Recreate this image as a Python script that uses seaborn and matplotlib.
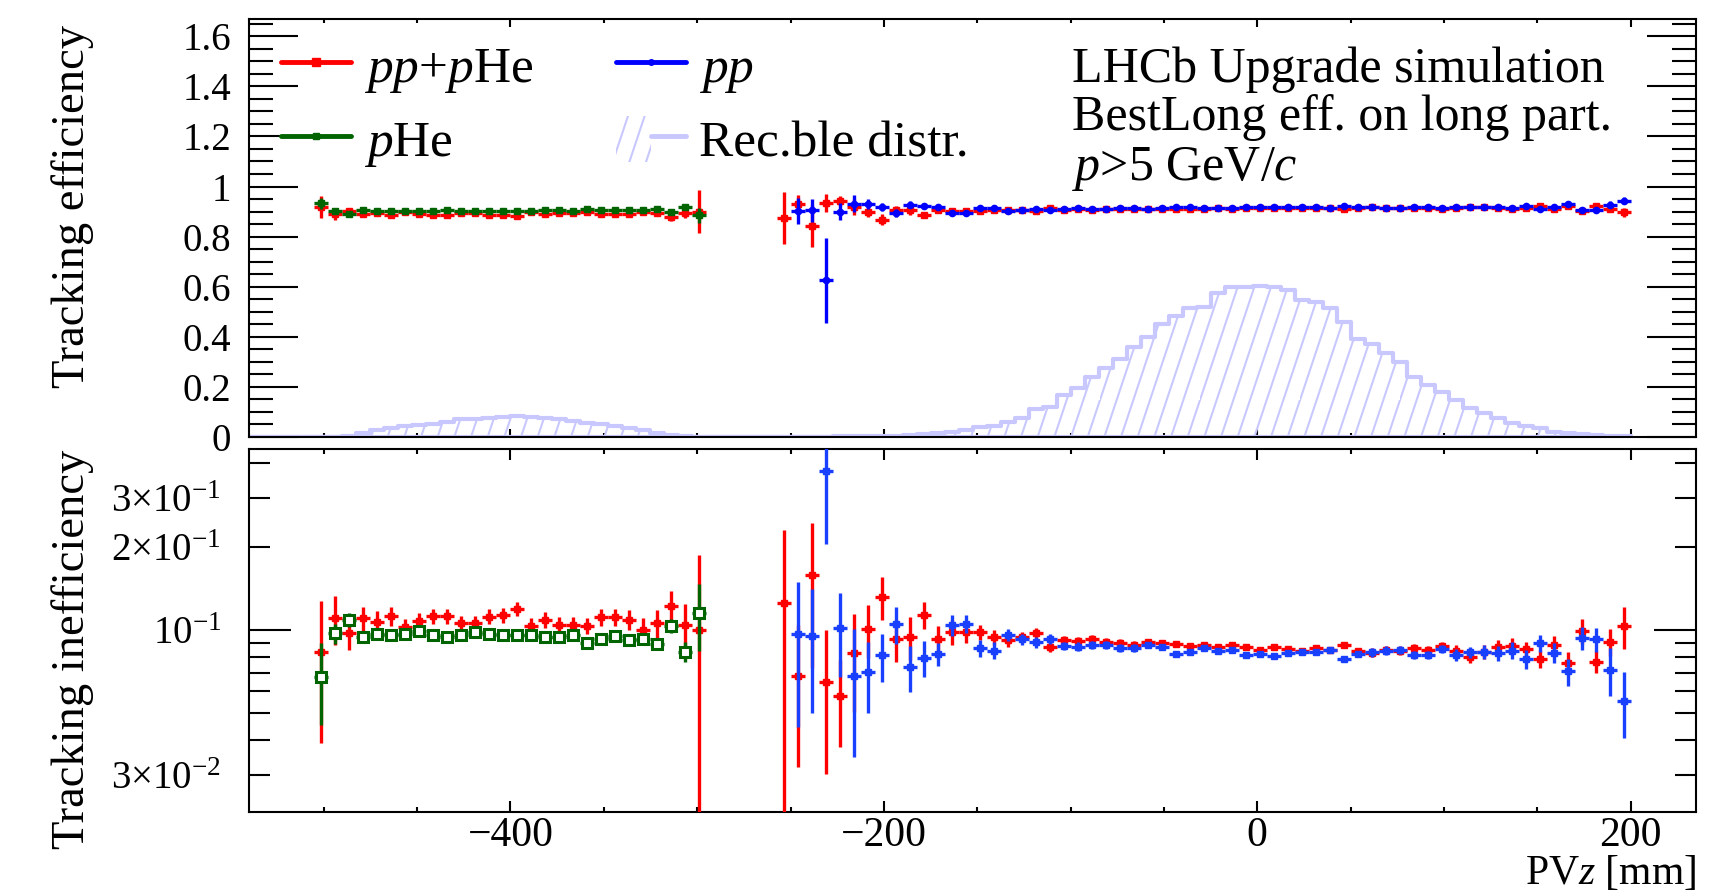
import numpy as np
import matplotlib
matplotlib.use("Agg")
import matplotlib.pyplot as plt
import matplotlib.hatch as mhatch
from matplotlib.path import Path
from matplotlib.lines import Line2D
from matplotlib.patches import Patch
from matplotlib.legend_handler import HandlerTuple
from matplotlib.ticker import FixedLocator, FuncFormatter, MultipleLocator
import seaborn as sns

# ---------------- data ----------------
pz_left = [-501.25, -493.75, -486.25, -478.75, -471.25, -463.75, -456.25, -448.75, -441.25, -433.75,
           -426.25, -418.75, -411.25, -403.75, -396.25, -388.75, -381.25, -373.75, -366.25, -358.75,
           -351.25, -343.75, -336.25, -328.75, -321.25, -313.75, -306.25, -298.75]

pz_right = [-253.75, -246.25, -238.75, -231.25, -223.75, -216.25, -208.75, -201.25, -193.75, -186.25,
            -178.75, -171.25, -163.75, -156.25, -148.75, -141.25, -133.75, -126.25, -118.75, -111.25,
            -103.75, -96.25, -88.75, -81.25, -73.75, -66.25, -58.75, -51.25, -43.75, -36.25,
            -28.75, -21.25, -13.75, -6.25, 1.25, 8.75, 16.25, 23.75, 31.25, 38.75,
            46.25, 53.75, 61.25, 68.75, 76.25, 83.75, 91.25, 98.75, 106.25, 113.75,
            121.25, 128.75, 136.25, 143.75, 151.25, 158.75, 166.25, 173.75, 181.25, 188.75, 196.25]

pz_blue = [-246.25, -238.75, -231.25, -223.75, -216.25, -208.75, -201.25, -193.75, -186.25,
           -178.75, -171.25, -163.75, -156.25, -148.75, -141.25, -133.75, -126.25, -118.75, -111.25,
           -103.75, -96.25, -88.75, -81.25, -73.75, -66.25, -58.75, -51.25, -43.75, -36.25,
           -28.75, -21.25, -13.75, -6.25, 1.25, 8.75, 16.25, 23.75, 31.25, 38.75,
           46.25, 53.75, 61.25, 68.75, 76.25, 83.75, 91.25, 98.75, 106.25, 113.75,
           121.25, 128.75, 136.25, 143.75, 151.25, 158.75, 166.25, 173.75, 181.25, 188.75, 196.25]

# pp+pHe (red) - fixed-target region
eff_red_left = [0.917, 0.890, 0.903, 0.890, 0.893, 0.888, 0.898, 0.892, 0.888, 0.888,
                0.894, 0.894, 0.888, 0.887, 0.881, 0.897, 0.891, 0.896, 0.896, 0.897,
                0.889, 0.889, 0.891, 0.900, 0.894, 0.878, 0.896, 0.900]
ineff_red_left = [0.0831, 0.1102, 0.0973, 0.1100, 0.1071, 0.1123, 0.1022, 0.1080, 0.1123, 0.1123,
                  0.1057, 0.1057, 0.1117, 0.1133, 0.1191, 0.1034, 0.1087, 0.1042, 0.1042, 0.1034,
                  0.1111, 0.1111, 0.1087, 0.1000, 0.1057, 0.1221, 0.1042, 0.1000]
err_red_left = [0.044, 0.022, 0.013, 0.011, 0.010, 0.009, 0.007, 0.007, 0.007, 0.007,
                0.007, 0.007, 0.007, 0.007, 0.007, 0.007, 0.007, 0.007, 0.007, 0.007,
                0.008, 0.008, 0.009, 0.010, 0.012, 0.016, 0.020, 0.087]

# pHe (green)
eff_green = [0.933, 0.903, 0.891, 0.905, 0.904, 0.904, 0.904, 0.901, 0.904, 0.905,
             0.904, 0.901, 0.904, 0.904, 0.904, 0.904, 0.905, 0.905, 0.904, 0.911,
             0.908, 0.905, 0.908, 0.908, 0.911, 0.897, 0.917, 0.885]
ineff_green = [0.0675, 0.0973, 0.1087, 0.0946, 0.0965, 0.0960, 0.0965, 0.0994, 0.0960, 0.0946,
               0.0960, 0.0986, 0.0965, 0.0960, 0.0960, 0.0960, 0.0946, 0.0946, 0.0960, 0.0895,
               0.0925, 0.0951, 0.0920, 0.0925, 0.0890, 0.1034, 0.0835, 0.1149]
err_green = [0.022, 0.008, 0.006, 0.004, 0.003, 0.003, 0.003, 0.003, 0.003, 0.003,
             0.003, 0.003, 0.003, 0.003, 0.003, 0.003, 0.003, 0.003, 0.003, 0.003,
             0.003, 0.003, 0.003, 0.003, 0.004, 0.006, 0.007, 0.031]

# pp+pHe (red) - collision region
eff_red_right = [0.875, 0.932, 0.842, 0.935, 0.942, 0.918, 0.899, 0.868, 0.908, 0.905,
                 0.886, 0.907, 0.902, 0.902, 0.902, 0.906, 0.908, 0.905, 0.903, 0.913,
                 0.908, 0.909, 0.907, 0.910, 0.911, 0.912, 0.910, 0.911, 0.911, 0.912,
                 0.912, 0.913, 0.912, 0.913, 0.916, 0.914, 0.915, 0.916, 0.914, 0.915,
                 0.912, 0.916, 0.917, 0.915, 0.916, 0.914, 0.915, 0.912, 0.916, 0.920,
                 0.917, 0.913, 0.912, 0.915, 0.921, 0.912, 0.924, 0.901, 0.923, 0.909, 0.897]
ineff_red_right = [0.1248, 0.0681, 0.1579, 0.0651, 0.0578, 0.0824, 0.1011, 0.1319, 0.0925, 0.0946,
                   0.1136, 0.0930, 0.0984, 0.0984, 0.0983, 0.0940, 0.0920, 0.0946, 0.0973, 0.0871,
                   0.0920, 0.0915, 0.0930, 0.0903, 0.0895, 0.0885, 0.0903, 0.0895, 0.0890, 0.0878,
                   0.0883, 0.0866, 0.0885, 0.0866, 0.0845, 0.0864, 0.0852, 0.0842, 0.0859, 0.0847,
                   0.0883, 0.0842, 0.0828, 0.0847, 0.0842, 0.0859, 0.0847, 0.0876, 0.0840, 0.0797,
                   0.0835, 0.0866, 0.0876, 0.0852, 0.0786, 0.0883, 0.0762, 0.0992, 0.0769, 0.0908, 0.1033]
err_red_right = [0.105, 0.036, 0.085, 0.035, 0.020, 0.032, 0.022, 0.023, 0.016, 0.017,
                 0.013, 0.010, 0.010, 0.009, 0.006, 0.006, 0.005, 0.004, 0.004, 0.004,
                 0.003, 0.003, 0.003, 0.003, 0.003, 0.003, 0.002, 0.002, 0.002, 0.002,
                 0.002, 0.002, 0.002, 0.002, 0.002, 0.002, 0.002, 0.002, 0.002, 0.002,
                 0.002, 0.002, 0.003, 0.003, 0.003, 0.003, 0.003, 0.003, 0.004, 0.004,
                 0.005, 0.005, 0.006, 0.005, 0.006, 0.007, 0.007, 0.010, 0.007, 0.010, 0.018]

# pp (blue)
eff_blue = [0.903, 0.905, 0.625, 0.899, 0.932, 0.930, 0.919, 0.895, 0.927, 0.921,
            0.918, 0.896, 0.895, 0.914, 0.916, 0.904, 0.908, 0.910, 0.907, 0.912,
            0.913, 0.912, 0.912, 0.914, 0.914, 0.912, 0.913, 0.918, 0.917, 0.914,
            0.916, 0.915, 0.919, 0.918, 0.919, 0.918, 0.917, 0.917, 0.915, 0.922,
            0.918, 0.917, 0.916, 0.915, 0.919, 0.919, 0.915, 0.919, 0.917, 0.917,
            0.918, 0.916, 0.922, 0.911, 0.917, 0.929, 0.906, 0.908, 0.928, 0.944]
ineff_blue = [0.0967, 0.0951, 0.3748, 0.1014, 0.0679, 0.0702, 0.0810, 0.1051, 0.0735, 0.0795,
              0.0819, 0.1042, 0.1051, 0.0859, 0.0842, 0.0959, 0.0925, 0.0903, 0.0930, 0.0876,
              0.0871, 0.0885, 0.0883, 0.0861, 0.0861, 0.0885, 0.0871, 0.0819, 0.0831, 0.0859,
              0.0842, 0.0847, 0.0812, 0.0817, 0.0808, 0.0824, 0.0831, 0.0835, 0.0847, 0.0784,
              0.0817, 0.0831, 0.0842, 0.0847, 0.0812, 0.0812, 0.0852, 0.0812, 0.0831, 0.0835,
              0.0824, 0.0842, 0.0784, 0.0895, 0.0828, 0.0708, 0.0938, 0.0924, 0.0717, 0.0556]
err_blue = [0.052, 0.045, 0.170, 0.034, 0.033, 0.020, 0.016, 0.016, 0.014, 0.012,
            0.008, 0.009, 0.008, 0.006, 0.006, 0.005, 0.004, 0.004, 0.004, 0.003,
            0.003, 0.003, 0.003, 0.003, 0.003, 0.002, 0.002, 0.002, 0.002, 0.002,
            0.002, 0.002, 0.002, 0.002, 0.002, 0.002, 0.002, 0.002, 0.002, 0.002,
            0.002, 0.003, 0.003, 0.003, 0.003, 0.003, 0.003, 0.004, 0.004, 0.005,
            0.005, 0.006, 0.006, 0.006, 0.007, 0.008, 0.009, 0.009, 0.014, 0.015]

# reconstructible-particle PV distribution (arbitrary normalisation)
hist_centers = [-538.75, -531.25, -523.75, -516.25, -508.75, -501.25, -493.75, -486.25, -478.75, -471.25,
                -463.75, -456.25, -448.75, -441.25, -433.75, -426.25, -418.75, -411.25, -403.75, -396.25,
                -388.75, -381.25, -373.75, -366.25, -358.75, -351.25, -343.75, -336.25, -328.75, -321.25,
                -313.75, -306.25, -298.75, -291.25, -283.75, -276.25, -268.75, -261.25, -253.75, -246.25,
                -238.75, -231.25, -223.75, -216.25, -208.75, -201.25, -193.75, -186.25, -178.75, -171.25,
                -163.75, -156.25, -148.75, -141.25, -133.75, -126.25, -118.75, -111.25, -103.75, -96.25,
                -88.75, -81.25, -73.75, -66.25, -58.75, -51.25, -43.75, -36.25, -28.75, -21.25,
                -13.75, -6.25, 1.25, 8.75, 16.25, 23.75, 31.25, 38.75, 46.25, 53.75,
                61.25, 68.75, 76.25, 83.75, 91.25, 98.75, 106.25, 113.75, 121.25, 128.75,
                136.25, 143.75, 151.25, 158.75, 166.25, 173.75, 181.25, 188.75, 196.25]
hist_values = [0.0, 0.0, 0.0, 0.0, 0.0, 0.0, 0.001, 0.004, 0.017, 0.027,
               0.037, 0.044, 0.047, 0.051, 0.060, 0.071, 0.073, 0.077, 0.081, 0.084,
               0.081, 0.077, 0.071, 0.064, 0.055, 0.051, 0.044, 0.037, 0.028, 0.017,
               0.007, 0.002, 0.0, 0.0, 0.0, 0.0, 0.0, 0.0, 0.0, 0.001,
               0.001, 0.001, 0.002, 0.002, 0.002, 0.003, 0.004, 0.006, 0.011, 0.016,
               0.020, 0.028, 0.038, 0.045, 0.058, 0.074, 0.111, 0.120, 0.167, 0.194,
               0.240, 0.274, 0.311, 0.360, 0.400, 0.453, 0.483, 0.516, 0.520, 0.573,
               0.600, 0.600, 0.604, 0.597, 0.586, 0.546, 0.537, 0.516, 0.460, 0.393,
               0.373, 0.334, 0.300, 0.240, 0.207, 0.181, 0.147, 0.114, 0.094, 0.074,
               0.054, 0.045, 0.034, 0.021, 0.014, 0.010, 0.007, 0.004, 0.002]

legend_labels = ["$pp$+$p$He", "$p$He", "$pp$", "Rec.ble distr."]
text_lines = ["LHCb Upgrade simulation", "BestLong eff. on long part.", "$p$>5 GeV/$c$"]
ineff_tick_labels = {0.03: "3\u00d710$^{-2}$", 0.1: "10$^{-1}$", 0.2: "2\u00d710$^{-1}$", 0.3: "3\u00d710$^{-1}$"}

# ---------------- style ----------------
RED = "#ff0000"
GREEN = "#006400"
BLUE_TOP = "#0000ff"
BLUE_BOT = "#1a40ff"
HIST = "#c8c8ff"
HALF_BIN = 3.75


class SteepHatch(mhatch.HatchPatternBase):
    """ROOT-like steep diagonal hatch, triggered by '|'."""
    RUN = 1.0 / 3.0

    def __init__(self, hatch, density):
        n = int(hatch.count('|') * density)
        self.n = n
        self.extra = int(np.ceil(n * self.RUN - 1e-9)) if n else 0
        self.num_vertices = 2 * (n + self.extra) if n else 0

    def set_vertices_and_codes(self, vertices, codes):
        n = self.n
        starts = np.arange(-self.extra, n) / n
        vertices[0::2, 0] = starts
        vertices[0::2, 1] = 0.0
        vertices[1::2, 0] = starts + self.RUN
        vertices[1::2, 1] = 1.0
        codes[0::2] = Path.MOVETO
        codes[1::2] = Path.LINETO


mhatch._hatch_types[mhatch._hatch_types.index(mhatch.VerticalHatch)] = SteepHatch

sns.set_theme(style="ticks")
plt.rcParams.update({
    "font.family": ["Liberation Serif", "DejaVu Serif"],
    "mathtext.fontset": "custom",
    "mathtext.rm": "Liberation Serif",
    "mathtext.it": "Liberation Serif:italic",
    "mathtext.bf": "Liberation Serif:bold",
    "axes.edgecolor": "black",
    "axes.linewidth": 1.5,
    "xtick.color": "black",
    "ytick.color": "black",
    "text.color": "black",
    "axes.labelcolor": "black",
    "hatch.linewidth": 1.5,
    "hatch.color": HIST,
    "axes.unicode_minus": True,
})

fig = plt.figure(figsize=(17.27, 8.90), dpi=100)
ax1 = fig.add_axes([0.1442, 0.5090, 0.8379, 0.4700])
ax2 = fig.add_axes([0.1442, 0.0876, 0.8379, 0.4079])

# histogram of reconstructible particles
hist_edges = [c - HALF_BIN for c in hist_centers] + [hist_centers[-1] + HALF_BIN]
n_before = len(ax1.collections)
sns.histplot(x=hist_centers, weights=hist_values, bins=hist_edges, element="step", fill=True,
             color=HIST, edgecolor=HIST, linewidth=3.0, hatch="|", ax=ax1, zorder=1)
for coll in ax1.collections[n_before:]:
    coll.set_facecolor("none")
    coll.set_edgecolor(HIST)


def points(ax, x, y, err, color, marker, ms, mfc=None, mew=1.0, z=3):
    ax.errorbar(x, y, xerr=HALF_BIN, yerr=err, fmt=marker, color=color, ms=ms,
                mfc=color if mfc is None else mfc, mec=color, mew=mew,
                elinewidth=2.4, capsize=0, zorder=z)


# top: efficiency
points(ax1, pz_left, eff_red_left, err_red_left, RED, "s", 4.5, z=3)
points(ax1, pz_right, eff_red_right, err_red_right, RED, "s", 4.5, z=3)
points(ax1, pz_left, eff_green, err_green, GREEN, "s", 4.5, z=4)
points(ax1, pz_blue, eff_blue, err_blue, BLUE_TOP, "o", 4.5, z=5)

# bottom: inefficiency
ax2.set_yscale("log")
points(ax2, pz_left, ineff_red_left, err_red_left, RED, "s", 4.5, z=3)
points(ax2, pz_right, ineff_red_right, err_red_right, RED, "s", 4.5, z=3)
points(ax2, pz_left, ineff_green, err_green, GREEN, "s", 7.0, mfc="white", mew=2.2, z=4)
points(ax2, pz_blue, ineff_blue, err_blue, BLUE_BOT, "s", 4.8, z=5)

# axes ranges & ticks
for ax in (ax1, ax2):
    ax.set_xlim(-540, 235)
    ax.set_xlabel("")
    ax.set_ylabel("")
    ax.xaxis.set_major_locator(MultipleLocator(200))
    ax.xaxis.set_minor_locator(MultipleLocator(50))
    ax.tick_params(axis="both", which="both", direction="in", top=True, right=True,
                   width=1.5, labelsize=28, colors="black")
    for s in ax.spines.values():
        s.set_linewidth(1.5)
        s.set_color("black")

ax1.set_ylim(0, 1.67)
ax1.yaxis.set_major_locator(MultipleLocator(0.2))
ax1.yaxis.set_minor_locator(MultipleLocator(0.05))
ax1.yaxis.set_major_formatter(FuncFormatter(lambda v, p: f"{v:g}"))
ax1.tick_params(axis="y", which="major", length=35, pad=13)
ax1.tick_params(axis="y", which="minor", length=17.5)
ax1.tick_params(axis="x", which="major", length=6)
ax1.tick_params(axis="x", which="minor", length=3)
ax1.tick_params(axis="x", labelbottom=False)

ax2.set_ylim(0.022, 0.45)
ax2.yaxis.set_major_locator(FixedLocator([0.1]))
ax2.yaxis.set_minor_locator(FixedLocator([0.03, 0.04, 0.05, 0.06, 0.07, 0.08, 0.09, 0.2, 0.3, 0.4]))
fmt = FuncFormatter(lambda v, p: next((lab for k, lab in ineff_tick_labels.items() if abs(v - k) < 1e-9), ""))
ax2.yaxis.set_major_formatter(fmt)
ax2.yaxis.set_minor_formatter(fmt)
ax2.tick_params(axis="y", which="major", length=30, pad=20)
ax2.tick_params(axis="y", which="minor", length=15, pad=20)
ax2.tick_params(axis="x", which="major", length=8, pad=3, labelsize=30)
ax2.tick_params(axis="x", which="minor", length=3.6)

# legend
handles = [
    Line2D([], [], color=RED, lw=3.5, marker="s", ms=6),
    Line2D([], [], color=GREEN, lw=3.5, marker="s", ms=4),
    Line2D([], [], color=BLUE_TOP, lw=3.5, marker="o", ms=4),
    (Patch(facecolor="none", edgecolor=HIST, hatch="|", lw=0), Line2D([], [], color=HIST, lw=3.5)),
]
ax1.legend(handles, legend_labels, ncol=2, loc="upper left", bbox_to_anchor=(0.022, 0.945),
           frameon=False, fontsize=37, handlelength=1.36, handleheight=1.0, handletextpad=0.25,
           columnspacing=1.62, labelspacing=0.4, borderpad=0, borderaxespad=0,
           handler_map={tuple: HandlerTuple(ndivide=None)})

# text block
for txt, yb in zip(text_lines, [0.9079, 0.8539, 0.7978]):
    fig.text(0.6207, yb, txt, fontsize=36, ha="left", va="baseline")

# axis titles
fig.text(0.0423, 0.9719, "Tracking efficiency", rotation=90, fontsize=33.5, ha="center", va="top")
fig.text(0.0423, 0.4944, "Tracking inefficiency", rotation=90, fontsize=33.5, ha="center", va="top")
fig.text(0.982, 1 - 884 / 890, "PV$z$ [mm]", fontsize=30, ha="right", va="baseline")

fig.savefig("out.png", dpi=100)
